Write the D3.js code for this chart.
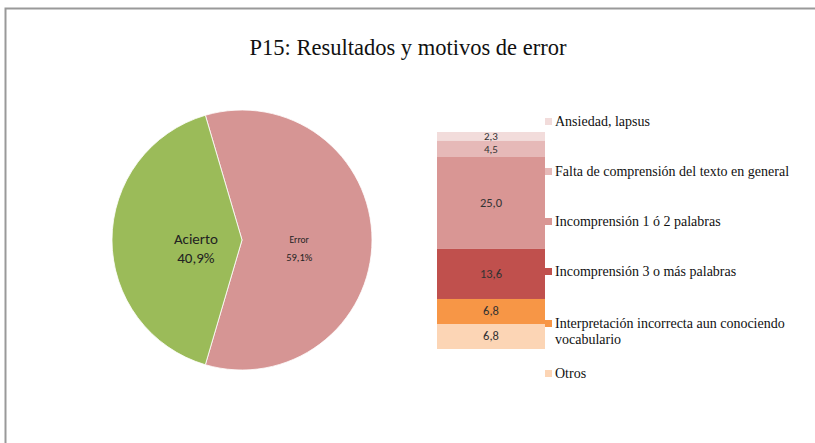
<!DOCTYPE html>
<html><head><meta charset="utf-8">
<script src="https://cdn.jsdelivr.net/npm/d3@7"></script>
<style>body{margin:0;background:#fff}svg{display:block}</style>
</head><body>
<svg id="c" width="815" height="443"></svg>
<script>
const title = "P15: Resultados y motivos de error";
const pieCategories = ["Error", "Acierto"];
const pieValues = [59.1, 40.9];
const pieLabels = ["59,1%", "40,9%"];
const pieColors = ["#D69594", "#9BBB59"];

const barCategories = ["Otros", "Interpretación incorrecta aun conociendo vocabulario", "Incomprensión 3 o más palabras", "Incomprensión 1 ó 2 palabras", "Falta de comprensión del texto en general", "Ansiedad, lapsus"];
const barValues = [6.8, 6.8, 13.6, 25.0, 4.5, 2.3];
const barLabels = ["6,8", "6,8", "13,6", "25,0", "4,5", "2,3"];
const barColors = ["#FCD5B5", "#F79646", "#C0504D", "#D99694", "#E6B9B8", "#F2DCDB"];
const legendOrder = ["Ansiedad, lapsus", "Falta de comprensión del texto en general", "Incomprensión 1 ó 2 palabras", "Incomprensión 3 o más palabras", ["Interpretación incorrecta aun conociendo", "vocabulario"], "Otros"];

const svg = d3.select("#c");
const serif = "'Liberation Serif', 'Times New Roman', serif";
const font = "Carlito, Lato, 'Open Sans', sans-serif";
// frame
svg.append("rect").attr("x",5.5).attr("y",8.5).attr("width",840).attr("height",480)
  .attr("fill","none").attr("stroke","#999").attr("stroke-width",2);

svg.append("text").attr("x",408).attr("y",55).attr("text-anchor","middle")
  .attr("font-family",serif).attr("font-size",22.5)
  .attr("fill","#111").text(title);

// pie
const cx = 242, cy = 240, r = 130;
const errSpan = 2*Math.PI*pieValues[0]/d3.sum(pieValues);
const start = Math.PI/2 - errSpan/2;
const pie = d3.pie().sort(null).value(d=>d).startAngle(start).endAngle(start+2*Math.PI);
const arcs = pie(pieValues);
const arc = d3.arc().innerRadius(0).outerRadius(r);
const g = svg.append("g").attr("transform",`translate(${cx},${cy})`);
g.selectAll("path").data(arcs).join("path").attr("d",arc)
  .attr("fill",(d,i)=>pieColors[i]).attr("stroke","#fff").attr("stroke-width",0.8);
const labelR = [0.44*r, 0.355*r];
arcs.forEach((d,i)=>{
  const la = d3.arc().innerRadius(labelR[i]).outerRadius(labelR[i]);
  const [x,y] = la.centroid(d);
  const big = i===1;
  const t = g.append("text").attr("text-anchor","middle").attr("font-family",font).attr("fill","#222");
  t.append("tspan").attr("x",x).attr("y",y+(big?4:3)).attr("font-size",big?15:9.5).text(pieCategories[i]);
  t.append("tspan").attr("x",x).attr("y",y+(big?23:21)).attr("font-size",big?15:10.5).text(pieLabels[i]);
});

// stacked bar
const y = d3.scaleLinear().domain([0, d3.sum(barValues)]).range([349, 132]);
const bx = 437, bw = 108;
let acc = 0;
const segs = barValues.map((v,i)=>{const s={i,v,y0:acc,y1:acc+v}; acc+=v; return s;});
svg.append("g").selectAll("rect").data(segs).join("rect")
  .attr("x",bx).attr("width",bw).attr("y",d=>y(d.y1)).attr("height",d=>y(d.y0)-y(d.y1))
  .attr("fill",d=>barColors[d.i]);
const nudge = [0, 0, 0, 0, 0.5, -0.5];
svg.append("g").selectAll("text").data(segs).join("text")
  .attr("x",bx+bw/2).attr("y",d=>(y(d.y0)+y(d.y1))/2+4+nudge[d.i]).attr("text-anchor","middle")
  .attr("font-family",font).attr("font-size",d=>d.v<5?11:12.5).attr("fill","#333").text(d=>barLabels[d.i]);

// legend
const legY = [122, 172, 222, 272, 324, 374];
const lg = svg.append("g");
legendOrder.forEach((lab,k)=>{
  const name = Array.isArray(lab)? lab.join(" ") : lab;
  const ci = barCategories.indexOf(name);
  lg.append("rect").attr("x",545).attr("y",legY[k]-4).attr("width",7).attr("height",7).attr("fill",barColors[ci]);
  const t = lg.append("text").attr("font-family",serif)
    .attr("font-size",14).attr("fill","#111");
  const lines = Array.isArray(lab)? lab : [lab];
  lines.forEach((l,j)=>t.append("tspan").attr("x",555).attr("y",legY[k]+4+j*16).text(l));
});
</script>
</body></html>
